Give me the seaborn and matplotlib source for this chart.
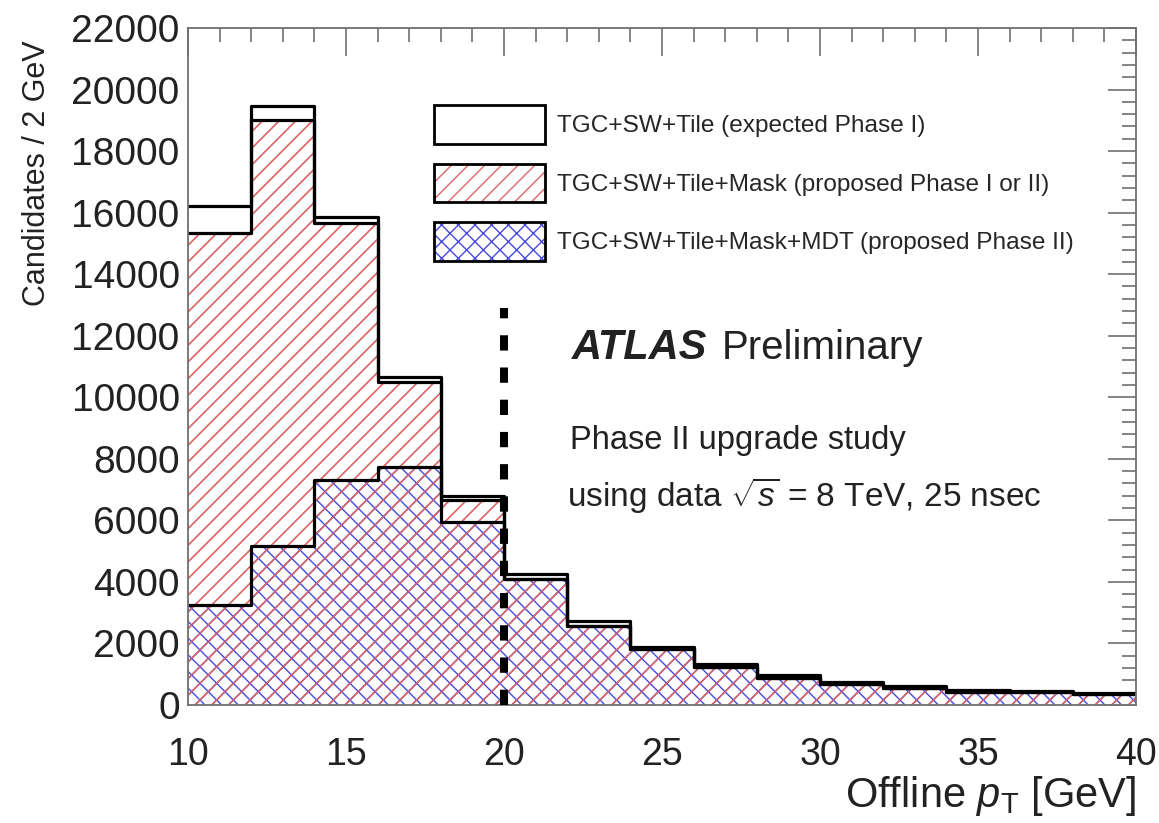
import matplotlib
matplotlib.use("Agg")
import matplotlib.pyplot as plt
import seaborn as sns
import pandas as pd
from matplotlib import font_manager
from matplotlib.patches import Patch
from matplotlib.legend_handler import HandlerTuple
from matplotlib.ticker import MultipleLocator

# ---------------- data ----------------
bin_edges = [10, 12, 14, 16, 18, 20, 22, 24, 26, 28, 30, 32, 34, 36, 38, 40]
bin_centers = [11, 13, 15, 17, 19, 21, 23, 25, 27, 29, 31, 33, 35, 37, 39]
total_counts = [16200, 19450, 15850, 10650, 6800, 4250, 2730, 1890, 1330, 975, 750, 620, 490, 460, 400]
mask_counts = [15350, 19000, 15650, 10500, 6650, 4090, 2570, 1820, 1230, 880, 680, 550, 420, 420, 350]
mdt_counts = [3250, 5170, 7310, 7740, 5950, 4090, 2570, 1820, 1230, 880, 680, 550, 420, 420, 350]

legend_labels = ["TGC+SW+Tile (expected Phase I)",
                 "TGC+SW+Tile+Mask (proposed Phase I or II)",
                 "TGC+SW+Tile+Mask+MDT (proposed Phase II)"]
cut_x = 20
cut_top = 12900

df = pd.DataFrame({"pt": bin_centers, "total": total_counts,
                   "mask": mask_counts, "mdt": mdt_counts})

# ---------------- style ----------------
sns.set_style("white")
avail = {f.name for f in font_manager.fontManager.ttflist}
base = "Liberation Sans" if "Liberation Sans" in avail else "DejaVu Sans"
narrow = "Liberation Sans Narrow" if "Liberation Sans Narrow" in avail else base
plt.rcParams["font.family"] = [base, "DejaVu Sans"]
plt.rcParams["mathtext.fontset"] = "custom"
plt.rcParams["mathtext.rm"] = base
plt.rcParams["mathtext.it"] = base + ":italic"
plt.rcParams["hatch.linewidth"] = 1.0

RED = "#e06868"
BLUE = "#4848e0"
FRAME = "#707070"
TXT = "#222222"
CLEAR = (1, 1, 1, 0)

fig = plt.figure(figsize=(11.59, 8.23), dpi=100)
ax = fig.add_axes([188 / 1159, 1 - 705 / 823, (1136 - 188) / 1159, (705 - 28) / 823])

common = dict(data=df, x="pt", bins=bin_edges, element="step", ax=ax)
# fills
sns.histplot(weights="total", fill=True, color="white", facecolor="white",
             edgecolor="white", linewidth=0, **common)
sns.histplot(weights="mask", fill=True, color=RED, facecolor="white", edgecolor=RED,
             hatch="//", linewidth=0, **common)
sns.histplot(weights="mdt", fill=True, color=BLUE, facecolor=CLEAR, edgecolor=BLUE,
             hatch="xx", linewidth=0, **common)
# red diagonal hatch shows through the blue cross-hatch
sns.histplot(weights="mask", fill=True, color=RED, facecolor=CLEAR, edgecolor=RED,
             hatch="//", linewidth=0, **common)
# outlines
for w in ["total", "mask", "mdt"]:
    sns.histplot(weights=w, fill=False, color="black", linewidth=2.3, **common)

ax.plot([cut_x, cut_x], [0, cut_top], color="black", lw=5.8, dashes=(1.9, 2.1),
        solid_capstyle="butt", dash_capstyle="butt", zorder=5)

ax.set_xlim(10, 40)
ax.set_ylim(0, 22000)
ax.xaxis.set_major_locator(MultipleLocator(5))
ax.xaxis.set_minor_locator(MultipleLocator(1))
ax.yaxis.set_major_locator(MultipleLocator(2000))
ax.yaxis.set_minor_locator(MultipleLocator(400))
ax.tick_params(which="both", direction="in", top=True, right=True, color=FRAME, width=1.2)
ax.tick_params(which="major", length=20)
ax.tick_params(which="minor", length=10)
ax.tick_params(axis="y", labelsize=28, pad=6, labelcolor=TXT)
ax.tick_params(axis="x", labelsize=27, pad=23, labelcolor=TXT)
for s in ax.spines.values():
    s.set_color(FRAME)
    s.set_linewidth(1.3)

ax.set_ylabel("Candidates / 2 GeV", fontsize=22, family=[narrow, "DejaVu Sans"],
              loc="top", color=TXT)
ax.yaxis.set_label_coords((52 - 188) / 948, (705 - 40) / 677)
ax.set_xlabel("Offline $p_{\\mathrm{T}}$ [GeV]", fontsize=30, family=[narrow, "DejaVu Sans"],
              loc="right", color=TXT)
ax.xaxis.set_label_coords(1.0, (705 - 774) / 677)

# legend
handles = [
    (Patch(facecolor="white", edgecolor="black", lw=2.0),),
    (Patch(facecolor="white", edgecolor=RED, hatch="//", lw=0),
     Patch(facecolor="none", edgecolor="black", lw=2.0)),
    (Patch(facecolor="white", edgecolor=BLUE, hatch="xx", lw=0),
     Patch(facecolor="none", edgecolor="black", lw=2.0)),
]
ax.legend(handles, legend_labels, handler_map={tuple: HandlerTuple(ndivide=1, pad=0)},
          loc="upper left", bbox_to_anchor=(434 / 1159, 1 - 105 / 823),
          bbox_transform=fig.transFigure, frameon=False,
          handlelength=4.55, handleheight=2.05, labelspacing=0.82,
          handletextpad=0.5, borderpad=0, borderaxespad=0,
          prop={"family": [narrow, "DejaVu Sans"], "size": 17.6})

# annotations
ax.text((572 - 188) / 948, (705 - 348) / 677, "ATLAS", transform=ax.transAxes,
        fontsize=30, fontweight="bold", fontstyle="italic", va="center", ha="left",
        color=TXT)
ax.text((722 - 188) / 948, (705 - 348) / 677, "Preliminary", transform=ax.transAxes,
        fontsize=29, va="center", ha="left", color=TXT)
ax.text((570 - 188) / 948, (705 - 440) / 677, "Phase II upgrade study",
        transform=ax.transAxes, fontsize=23.5, va="center", ha="left", color=TXT)
ax.text((567 - 188) / 948, (705 - 495) / 677, "using data $\\sqrt{s}$ = 8 TeV, 25 nsec",
        transform=ax.transAxes, fontsize=24, va="center", ha="left", color=TXT)

fig.savefig("out.png", dpi=100)
